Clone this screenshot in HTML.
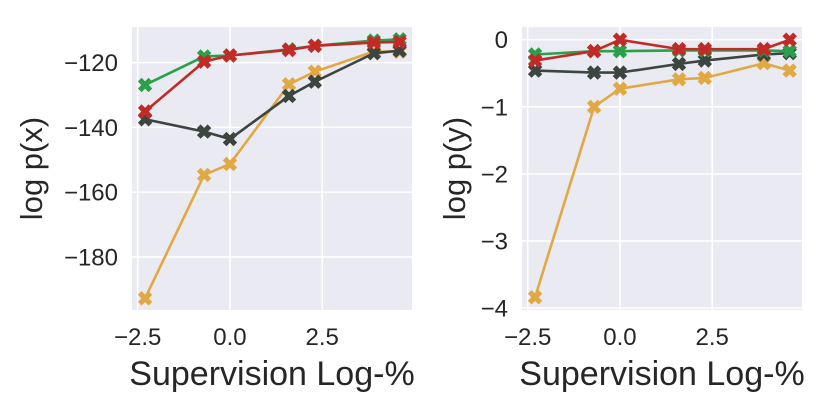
<!DOCTYPE html>
<html><head><meta charset="utf-8"><style>
body{margin:0;background:#fff;}
svg text{font-family:"Liberation Sans",Arial,sans-serif;fill:#262626;}
</style></head><body>
<svg id="c" width="830" height="415" xmlns="http://www.w3.org/2000/svg"></svg>
<script>
const xs = [-2.3, -0.7, 0, 1.6, 2.3, 3.9, 4.6];
const seriesNames = ["yellow","dark","green","red"];
const colors = {yellow:"#e2a843",dark:"#3c4540",green:"#2aa049",red:"#c22a27"};
const px_yellow = [-192.8,-154.7,-151.3,-126.7,-122.8,-116.6,-116.6];
const px_dark = [-137.5,-141.3,-143.6,-130.3,-125.9,-117.1,-116.3];
const px_green = [-126.9,-118.1,-117.8,-115.9,-114.8,-113.2,-112.8];
const px_red = [-135.1,-119.7,-117.8,-116.1,-114.8,-113.8,-113.6];
const py_yellow = [-3.84,-1.0,-0.73,-0.59,-0.57,-0.35,-0.46];
const py_dark = [-0.46,-0.49,-0.49,-0.36,-0.31,-0.22,-0.2];
const py_green = [-0.22,-0.17,-0.17,-0.16,-0.16,-0.16,-0.17];
const py_red = [-0.31,-0.17,0.0,-0.14,-0.14,-0.14,0.0];
const xTicks = [-2.5, 0, 2.5];
const xTickLabels = ["\u22122.5","0.0","2.5"];
const leftYTicks = [-120,-140,-160,-180];
const leftYLabels = ["\u2212120","\u2212140","\u2212160","\u2212180"];
const rightYTicks = [0,-1,-2,-3,-4];
const rightYLabels = ["0","\u22121","\u22122","\u22123","\u22124"];

const svg=document.getElementById('c');
const NS="http://www.w3.org/2000/svg";
function mk(tag,attrs,parent){const e=document.createElementNS(NS,tag);for(const k in attrs)e.setAttribute(k,attrs[k]);(parent||svg).appendChild(e);return e;}

function panel(name,x0,x1,ymin,ymax,data,yTicks,yLabels,ylabel,labOff){
  const top=27,bot=310;
  const g=mk('g',{});
  
  
  const sx=v=>x0+5.7+(v+2.5)*36.9;
  const sy=v=>top+(ymax-v)/(ymax-ymin)*(bot-top);
  const bg=mk('rect',{x:x0,y:top,width:x1-x0,height:bot-top,fill:'#eaeaf2'},g);
  
  
  xTicks.forEach((t,i)=>{
    mk('line',{x1:sx(t),x2:sx(t),y1:top,y2:bot,stroke:'#fff','stroke-width':1.6},g);
    const tx=mk('text',{x:sx(t),y:345,'font-size':24,'text-anchor':'middle'},g);
    tx.textContent=xTickLabels[i];
    
    
  });
  yTicks.forEach((t,i)=>{
    mk('line',{x1:x0,x2:x1,y1:sy(t),y2:sy(t),stroke:'#fff','stroke-width':1.6},g);
    const tx=mk('text',{x:x0-14,y:sy(t)+8.5,'font-size':24,'text-anchor':'end'},g);
    tx.textContent=yLabels[i];
    
    
  });
  seriesNames.forEach(s=>{
    const vals=data[s];
    const pts=xs.map((x,i)=>sx(x)+','+sy(vals[i])).join(' ');
    const pl=mk('polyline',{points:pts,fill:'none',stroke:colors[s],'stroke-width':2.6},g);
    
    
    xs.forEach((x,i)=>{
      const cx=sx(x),cy=sy(vals[i]);
      const m=mk('path',{d:'M-6.5,-3.5 L-3.5,-6.5 L0,-3 L3.5,-6.5 L6.5,-3.5 L3,0 L6.5,3.5 L3.5,6.5 L0,3 L-3.5,6.5 L-6.5,3.5 L-3,0 Z',transform:`translate(${cx},${cy})`,fill:colors[s],stroke:colors[s],'stroke-width':1},g);
      
      
    });
  });
  const xl=mk('text',{x:(x0+x1)/2,y:385,'font-size':34,'text-anchor':'middle'},g);
  xl.textContent='Supervision Log-%';
  
  
  const yl=mk('text',{x:0,y:0,'font-size':31,'text-anchor':'middle',transform:`translate(${x0-labOff},${(top+bot)/2}) rotate(-90)`},g);
  yl.textContent=ylabel;
  
  
}
panel('left-panel',132,412,-196.4,-109,{yellow:px_yellow,dark:px_dark,green:px_green,red:px_red},leftYTicks,leftYLabels,'log p(x)',90);
panel('right-panel',522,802,-4.03,0.19,{yellow:py_yellow,dark:py_dark,green:py_green,red:py_red},rightYTicks,rightYLabels,'log p(y)',57);
</script>
</body></html>
